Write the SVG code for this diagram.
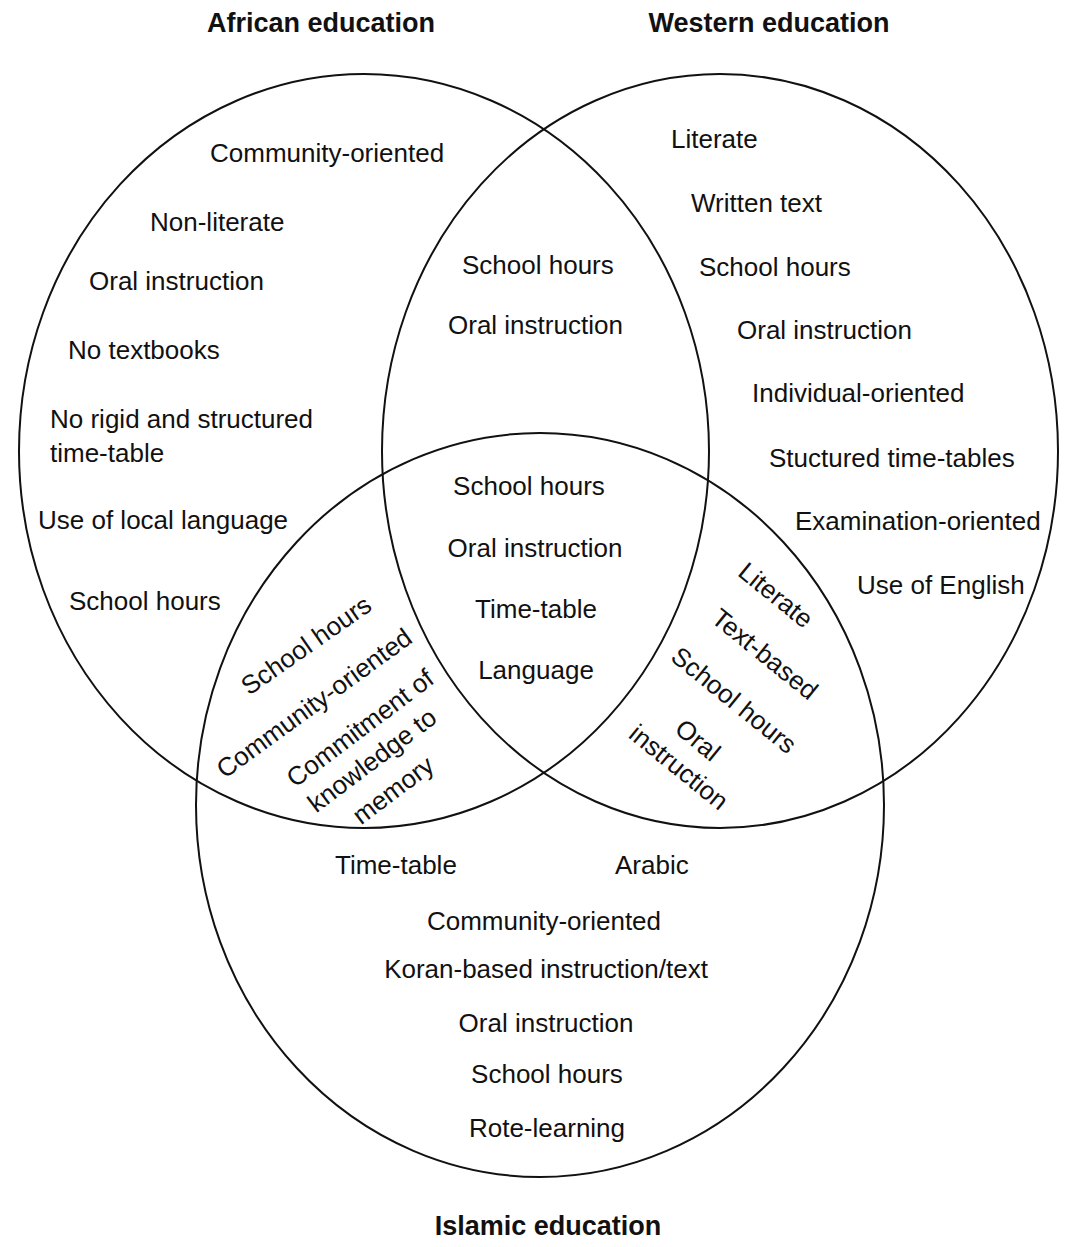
<svg xmlns="http://www.w3.org/2000/svg" width="1070" height="1247" viewBox="0 0 1070 1247">
<style>
text{font-family:"Liberation Sans",Arial,sans-serif;font-size:26px;fill:#111}
.t{font-weight:bold;font-size:27px;text-anchor:middle}
.m{text-anchor:middle}
.c{fill:none;stroke:#111;stroke-width:2}
</style>
<rect width="1070" height="1247" fill="#fff"/>
<g id="circles">
<ellipse id="african-circle" class="c" cx="364" cy="451" rx="345" ry="377"/>
<ellipse id="western-circle" class="c" cx="720" cy="451" rx="338" ry="377"/>
<ellipse id="islamic-circle" class="c" cx="540" cy="805" rx="344" ry="372"/>
</g>
<g id="titles">
<text class="t" x="321" y="32">African education</text>
<text class="t" x="769" y="32">Western education</text>
<text class="t" x="548" y="1235">Islamic education</text>
</g>
<g id="african-only">
<text x="210" y="162">Community-oriented</text>
<text x="150" y="231">Non-literate</text>
<text x="89" y="290">Oral instruction</text>
<text x="68" y="359">No textbooks</text>
<text x="50" y="428">No rigid and structured</text>
<text x="50" y="462">time-table</text>
<text x="38" y="529">Use of local language</text>
<text x="69" y="610">School hours</text>
</g>
<g id="african-western">
<text x="462" y="274">School hours</text>
<text x="448" y="334">Oral instruction</text>
</g>
<g id="western-only">
<text x="671" y="148">Literate</text>
<text x="691" y="212">Written text</text>
<text x="699" y="276">School hours</text>
<text x="737" y="339">Oral instruction</text>
<text x="752" y="402">Individual-oriented</text>
<text x="769" y="467">Stuctured time-tables</text>
<text x="795" y="530">Examination-oriented</text>
<text x="857" y="594">Use of English</text>
</g>
<g id="all-three">
<text class="m" x="529" y="495">School hours</text>
<text class="m" x="535" y="557">Oral instruction</text>
<text class="m" x="536" y="618">Time-table</text>
<text class="m" x="536" y="679">Language</text>
</g>
<g id="african-islamic">
<text class="m" dy="0.35em" transform="translate(306,645) rotate(-35)">School hours</text>
<text class="m" dy="0.35em" transform="translate(314,703) rotate(-36)">Community-oriented</text>
<text class="m" dy="0.35em" transform="translate(360,728) rotate(-37)">Commitment of</text>
<text class="m" dy="0.35em" transform="translate(372,760) rotate(-37)">knowledge to</text>
<text class="m" dy="0.35em" transform="translate(393,790) rotate(-37)">memory</text>
</g>
<g id="western-islamic">
<text class="m" dy="0.35em" transform="translate(776,595) rotate(39)">Literate</text>
<text class="m" dy="0.35em" transform="translate(765,654) rotate(39)">Text-based</text>
<text class="m" dy="0.35em" transform="translate(734,700) rotate(39)">School hours</text>
<text class="m" dy="0.35em" transform="translate(698,740) rotate(39)">Oral</text>
<text class="m" dy="0.35em" transform="translate(679,767) rotate(39)">instruction</text>
</g>
<g id="islamic-only">
<text x="335" y="874">Time-table</text>
<text x="615" y="874">Arabic</text>
<text class="m" x="544" y="930">Community-oriented</text>
<text class="m" x="546" y="978">Koran-based instruction/text</text>
<text class="m" x="546" y="1032">Oral instruction</text>
<text class="m" x="547" y="1083">School hours</text>
<text class="m" x="547" y="1137">Rote-learning</text>
</g>
</svg>
